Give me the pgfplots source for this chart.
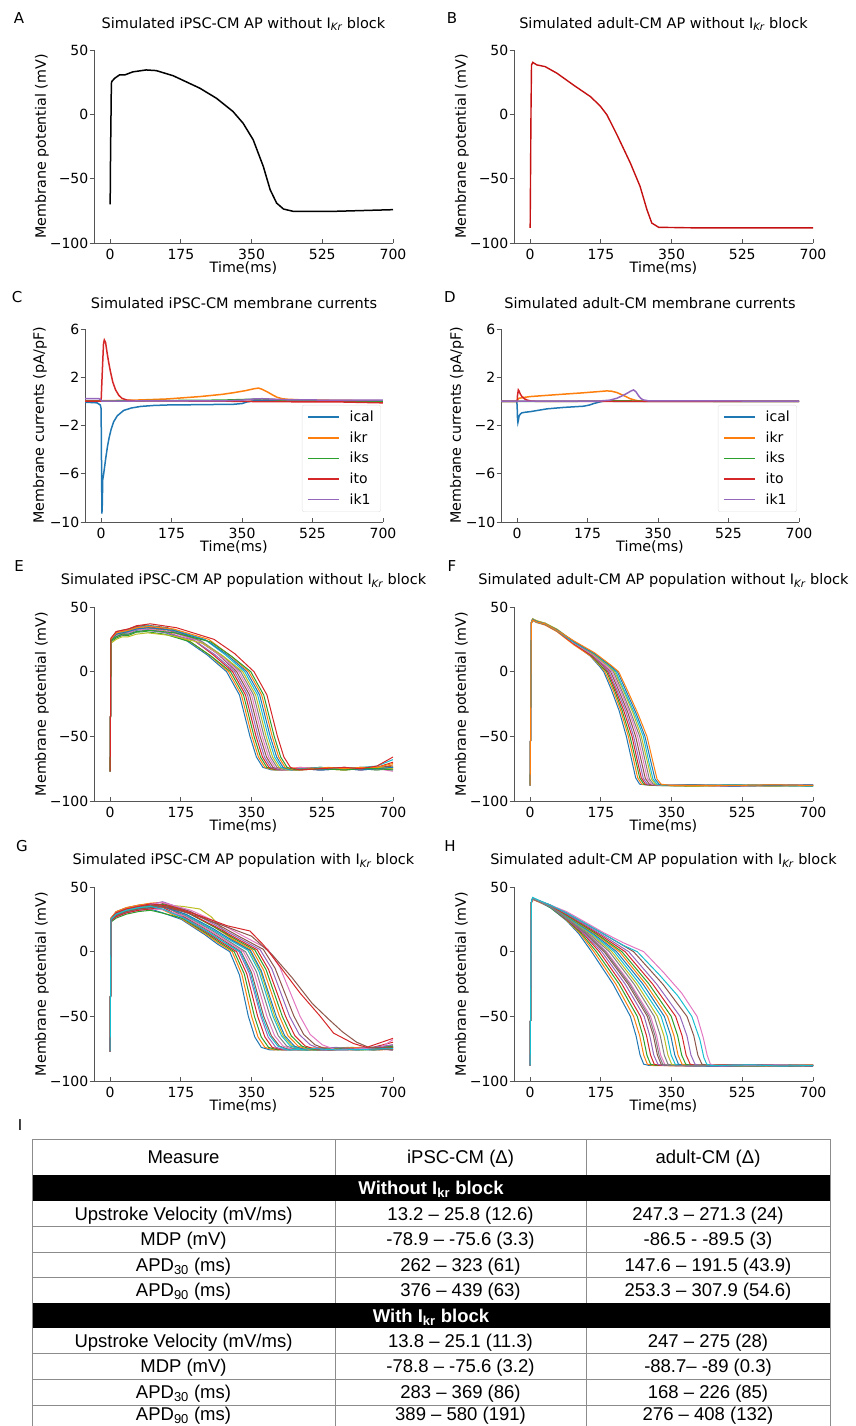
\documentclass[border=0pt]{standalone}
\usepackage{fontspec}
\setmainfont{DejaVu Sans}
\newfontfamily\tabfont{Liberation Sans}
\usepackage{pgfplots}
\pgfplotsset{compat=1.18}

\definecolor{c0}{HTML}{1F77B4}
\definecolor{c1}{HTML}{FF7F0E}
\definecolor{c2}{HTML}{2CA02C}
\definecolor{c3}{HTML}{D62728}
\definecolor{c4}{HTML}{9467BD}
\definecolor{c5}{HTML}{8C564B}
\definecolor{c6}{HTML}{E377C2}
\definecolor{c7}{HTML}{7F7F7F}
\definecolor{c8}{HTML}{BCBD22}
\definecolor{c9}{HTML}{17BECF}
\definecolor{spine}{HTML}{555555}
\definecolor{apred}{HTML}{C41010}

\pgfplotscreateplotcyclelist{tab}{
{c0,line width=1pt,mark=none},{c1,line width=1pt,mark=none},
{c2,line width=1pt,mark=none},{c3,line width=1pt,mark=none},
{c4,line width=1pt,mark=none},{c5,line width=1pt,mark=none},
{c6,line width=1pt,mark=none},{c7,line width=1pt,mark=none},
{c8,line width=1pt,mark=none},{c9,line width=1pt,mark=none}}

\pgfplotsset{
  panel/.style={
    scale only axis, width=299pt, height=193pt, anchor=north west,
    axis x line*=bottom, axis y line*=left,
    axis line style={-,draw=spine,line width=0.9pt},
    every tick/.style={draw=spine,line width=0.9pt},
    xtick align=inside, ytick align=outside, major tick length=4.5pt,
    xmin=-40, xmax=700, xtick={0,175,350,525,700},
    tick label style={font=\fontsize{14}{16}\selectfont},
    yticklabel style={inner xsep=1pt},
    xticklabel style={yshift=-3pt},
    /pgf/number format/assume math mode=true,
    xlabel={Time(ms)},
    every axis x label/.style={at={(axis description cs:0.5,-0.13)},anchor=center,font=\fontsize{14.3}{17}\selectfont},
    every axis y label/.style={at={(axis description cs:-0.174,0.5)},rotate=90,anchor=center,font=\fontsize{14.3}{17}\selectfont},
    every axis title/.style={at={(axis description cs:0.5,1.135)},anchor=center,font=\fontsize{14.5}{17}\selectfont},
    cycle list name=tab,
  },
  ap/.style={panel, ymin=-100, ymax=50, ytick={-100,-50,0,50},
    yticklabels={−100,−50,0,50}, ylabel={Membrane potential (mV)}},
  cur/.style={panel, width=298pt, ymin=-10, ymax=6, ytick={-10,-6,-2,2,6},
    yticklabels={−10,−6,−2,2,6}, ylabel={Membrane currents (pA/pF)},
    every axis y label/.append style={at={(axis description cs:-0.151,0.5)}},
    legend style={at={(0.993,0.052)}, anchor=south east, draw=black!12, fill=white,
      rounded corners=2pt, font=\fontsize{14}{16}\selectfont, inner xsep=5pt, inner ysep=4pt,
      row sep=4.5pt, cells={anchor=west},
      /tikz/every odd column/.append style={column sep=8pt}},
    legend image code/.code={\draw[#1] (0pt,0pt) -- (31pt,0pt);}},
}

\newcommand{\ikr}{I\textsubscript{\itshape Kr}}

\begin{document}
\begin{tikzpicture}
\useasboundingbox (0,0) rectangle (855pt,-1426pt);

% ---------------- A
\begin{axis}[ap, at={(94pt,-50pt)}, title={Simulated iPSC-CM AP without \ikr\ block}]
\addplot[black, line width=1.5pt] coordinates {(0,-70)(1,-30)(3,24)(4,25.5)(11,28)(23,30.6)(36,30.6)(56,33)(89,34.5)(114,34)(156,30)(222,20.3)(263,12.5)(304,2.2)(329,-6.9)(354,-19.8)(379,-40.5)(396,-58.6)(412,-69)(429,-73.6)(453,-75.4)(553,-75.4)(700,-74.1)};
\end{axis}

% ---------------- B
\begin{axis}[ap, at={(514pt,-50pt)}, title={Simulated adult-CM AP without \ikr\ block}]
\addplot[apred, line width=1.4pt] coordinates {(0,-88.3)(2,0)(3.3,38.4)(6.6,40.4)(16.5,38.4)(37,37.1)(66,32)(107,22.8)(149,13.8)(173,6.6)(190,-0.4)(215,-16)(248,-37.9)(272,-56)(289,-74.1)(301,-84.5)(318,-87.8)(400,-88.2)(700,-88.3)};
\end{axis}

% ---------------- C
\begin{axis}[cur, at={(85pt,-329pt)}, title={Simulated iPSC-CM membrane currents}]
\addplot[c0, line width=1.5pt] coordinates {(-40,-0.07)(-10,-0.12)(-2,-0.3)(0,-0.6)(1,-5)(2,-9.3)(3,-8.5)(4,-6.5)(6,-6.1)(8,-5.6)(12,-4.6)(16,-3.7)(20,-3)(25,-2.3)(31,-1.7)(40,-1.2)(56,-0.75)(75,-0.55)(98,-0.42)(130,-0.34)(164,-0.3)(250,-0.27)(329,-0.24)(350,-0.18)(362,-0.05)(380,0.05)(412,0.05)(700,0.02)};
\addplot[c1, line width=1.5pt] coordinates {(-40,0.05)(0,0.05)(50,0.08)(100,0.12)(164,0.2)(246,0.4)(300,0.58)(329,0.72)(360,0.9)(380,1.05)(391,1.1)(400,1.0)(412,0.8)(425,0.55)(437,0.34)(450,0.22)(461,0.18)(500,0.12)(600,0.08)(700,0.05)};
\addplot[c2, line width=1.5pt] coordinates {(-40,0.02)(0,0.02)(100,0.05)(300,0.1)(400,0.2)(430,0.15)(470,0.05)(700,0.02)};
\addplot[c3, line width=1.5pt] coordinates {(-40,0.02)(0,0.02)(3,2.5)(6,4.8)(8,5.1)(11,4.9)(15,4)(19,3.2)(23,2.5)(29,1.6)(36,0.95)(44,0.5)(52,0.25)(65,0.1)(80,0.05)(300,0.02)(400,-0.02)(600,-0.05)(700,-0.12)};
\addplot[c4, line width=1.5pt] coordinates {(-40,0.22)(-5,0.22)(0,0.1)(2,0.02)(50,0.03)(300,0.04)(350,0.1)(380,0.2)(400,0.22)(430,0.18)(470,0.12)(700,0.1)};
\legend{ical,ikr,iks,ito,ik1}
\end{axis}

% ---------------- D
\begin{axis}[cur, at={(501pt,-329pt)}, title={Simulated adult-CM membrane currents},
  every axis y label/.append style={at={(axis description cs:-0.148,0.5)}}]
\addplot[c0, line width=1.5pt] coordinates {(-40,0)(-1,0)(0,-0.3)(1,-1.4)(2,-1.75)(3,-1.6)(5,-1.2)(8,-1.05)(12,-0.95)(20,-0.9)(33,-0.85)(74,-0.62)(116,-0.5)(165,-0.4)(180,-0.3)(190,-0.18)(205,-0.05)(215,0.02)(240,0.01)(700,0)};
\addplot[c1, line width=1.5pt] coordinates {(-40,0)(-1,0)(1,0.1)(4,0.25)(15,0.32)(33,0.4)(74,0.5)(116,0.6)(160,0.7)(198,0.8)(223,0.87)(235,0.84)(248,0.73)(260,0.55)(270,0.4)(281,0.22)(295,0.08)(306,0.02)(320,0)(700,0)};
\addplot[c2, line width=1.5pt] coordinates {(-40,0)(150,0.01)(200,0.03)(260,0.05)(300,0.02)(700,0)};
\addplot[c3, line width=1.5pt] coordinates {(-40,0)(0,0)(1,0.5)(3,0.95)(5,0.85)(8,0.6)(12,0.4)(18,0.22)(25,0.1)(35,0.03)(50,0)(700,0)};
\addplot[c4, line width=1.5pt] coordinates {(-40,0.02)(200,0.02)(230,0.1)(248,0.26)(262,0.48)(273,0.67)(282,0.85)(289,0.95)(295,0.8)(302,0.45)(308,0.22)(314,0.12)(325,0.05)(700,0.02)};
\legend{ical,ikr,iks,ito,ik1}
\end{axis}

% ---------------- E
\begin{axis}[ap, height=194pt, at={(94pt,-607pt)}, title={Simulated iPSC-CM AP population without \ikr\ block}]
\addplot coordinates {(0,-77)(2,24)(15,28)(30,29.5)(45,30)(65,32)(85,33)(130,31)(189,24)(240,13)(288,0)(320,-18)(346,-50)(362,-66)(378,-74)(400,-76)(470,-75)(520,-76)(580,-75)(620,-76)(660,-75)(700,-74)};
\addplot coordinates {(0,-77)(2,25)(15,29)(30,29.5)(45,31)(65,33.5)(86,34)(132,32)(194,24)(245,13)(293,0)(325,-18)(351,-50)(367,-66)(383,-74)(405,-76)(470,-74)(520,-75)(580,-76)(620,-74)(660,-75)(700,-72)};
\addplot coordinates {(0,-77)(2,23)(15,26)(30,28)(45,28)(65,30.5)(87,31)(135,29)(199,23)(250,12)(298,0)(330,-18)(356,-50)(372,-66)(388,-74)(410,-76)(470,-75)(520,-74)(580,-75)(620,-75)(660,-76)(700,-75)};
\addplot coordinates {(0,-77)(2,25)(15,30)(30,31)(45,32)(65,34.5)(88,35)(137,33)(204,25)(255,13)(303,0)(335,-18)(361,-50)(377,-66)(393,-74)(415,-76)(470,-76)(520,-75)(580,-74)(620,-76)(660,-74)(700,-70)};
\addplot coordinates {(0,-77)(2,24)(15,27)(30,28.5)(45,29)(65,31)(89,32)(140,30)(209,24)(260,13)(308,0)(340,-18)(366,-50)(382,-66)(398,-74)(420,-76)(470,-75)(520,-76)(580,-75)(620,-74)(660,-75)(700,-76)};
\addplot coordinates {(0,-77)(2,25)(15,31)(30,32)(45,33)(65,35)(90,36)(142,34)(214,25)(265,14)(313,0)(345,-18)(371,-50)(387,-66)(403,-74)(425,-76)(470,-75)(520,-74)(580,-76)(620,-75)(660,-74)(700,-73)};
\addplot coordinates {(0,-77)(2,24)(15,28)(30,30)(45,30)(65,32.5)(91,33)(145,31)(219,24)(270,13)(318,0)(350,-18)(376,-50)(392,-66)(408,-74)(430,-76)(470,-74)(520,-75)(580,-75)(620,-76)(660,-75)(700,-77)};
\addplot coordinates {(0,-77)(2,24)(15,29)(30,30)(45,31)(65,33)(92,34)(147,32)(224,24)(275,13)(323,0)(355,-18)(381,-50)(397,-66)(413,-74)(435,-76)(470,-75)(520,-76)(580,-74)(620,-75)(660,-76)(700,-74)};
\addplot coordinates {(0,-77)(2,22)(15,25)(30,27)(45,27)(65,29)(93,30)(150,28)(229,22)(280,12)(328,0)(360,-18)(386,-50)(402,-66)(418,-74)(440,-76)(470,-76)(520,-75)(580,-76)(620,-75)(660,-74)(700,-75)};
\addplot coordinates {(0,-77)(2,25)(15,30)(30,30.5)(45,32)(65,34)(94,35.5)(152,33)(234,25)(285,13)(333,0)(365,-18)(391,-50)(407,-66)(423,-74)(445,-76)(490,-75)(520,-74)(580,-75)(620,-74)(660,-73)(700,-68)};
\addplot coordinates {(0,-77)(2,24)(15,29)(30,30)(45,31)(65,33)(95,34)(155,32)(239,24)(290,13)(338,0)(370,-18)(396,-50)(412,-66)(428,-74)(450,-76)(490,-75)(520,-76)(580,-75)(620,-76)(660,-75)(700,-74)};
\addplot coordinates {(0,-77)(2,25)(15,30)(30,31)(45,32)(65,34)(96,35)(157,33)(244,25)(295,13)(343,0)(375,-18)(401,-50)(417,-66)(433,-74)(455,-76)(500,-75)(540,-74)(580,-75)(620,-74)(660,-74)(700,-71)};
\addplot coordinates {(0,-77)(2,24)(15,27)(30,29)(45,29)(65,31)(97,32)(160,30)(249,23)(300,12)(348,0)(380,-18)(406,-50)(422,-66)(438,-74)(460,-76)(520,-75)(580,-76)(620,-75)(660,-75)(700,-76)};
\addplot coordinates {(0,-77)(2,26)(15,31)(30,32)(45,33)(65,35.5)(99,37)(164,34)(257,25)(308,14)(356,0)(388,-18)(414,-50)(430,-66)(446,-74)(468,-76)(520,-75)(580,-74)(620,-75)(660,-73)(700,-66)};
\end{axis}

% ---------------- F
\begin{axis}[ap, height=194pt, at={(514pt,-607pt)}, title={Simulated adult-CM AP population without \ikr\ block}]
\addplot coordinates {(0,-88)(3,38)(6,40)(16,38.5)(37,37)(66,32)(107,22)(149,12)(172,4)(182,0)(201,-14)(220,-30)(238,-50)(251,-68)(261,-82)(271,-87)(300,-88)(400,-88)(500,-87.5)(600,-88.5)(700,-88)};
\addplot coordinates {(0,-88)(3,37)(6,39.5)(16,38)(37,36)(66,31)(107,21)(150,12)(175,4)(185,0)(205,-14)(224,-30)(243,-50)(256,-68)(266,-82)(276,-87)(305,-88)(400,-87.5)(500,-88.5)(600,-88)(700,-87.5)};
\addplot coordinates {(0,-88)(3,38)(6,40.5)(16,39)(37,37.5)(66,32.5)(108,22.5)(151,12.5)(177,4)(189,0)(209,-14.5)(228,-30.5)(247,-50)(261,-68.5)(271,-82)(281,-87)(309,-88)(400,-88.5)(500,-88)(600,-87.5)(700,-88.5)};
\addplot coordinates {(0,-88)(3,38)(6,40)(16,38.5)(37,36.5)(66,31.5)(108,21.5)(152,12.5)(180,4.5)(192,0)(212,-14.5)(232,-30.5)(252,-50)(265,-68.5)(275,-82)(285,-87)(314,-88)(400,-88)(500,-88.5)(600,-87.5)(700,-88)};
\addplot coordinates {(0,-88)(3,38)(6,41)(16,39)(37,37)(66,32)(108,22.5)(153,13)(182,4.5)(195,0)(216,-15)(237,-31)(256,-50)(270,-69)(280,-82.5)(290,-87)(318,-88)(400,-87.5)(500,-88)(600,-88.5)(700,-87.5)};
\addplot coordinates {(0,-88)(3,37.5)(6,40)(16,38.5)(37,37)(66,32.5)(108,23)(154,13)(185,4.5)(199,0)(220,-15)(241,-31)(261,-50)(275,-69)(285,-82.5)(295,-87)(323,-88)(400,-88.5)(500,-87.5)(600,-88)(700,-88.5)};
\addplot coordinates {(0,-88)(3,38)(6,40.5)(16,39)(37,37.5)(66,32)(109,22)(155,13)(187,4.5)(202,0)(224,-15)(245,-31)(266,-50)(280,-69)(290,-82.5)(300,-87)(328,-88)(400,-88)(500,-88.5)(600,-88)(700,-87.5)};
\addplot coordinates {(0,-88)(3,38)(6,40)(16,38)(37,36.5)(66,31.5)(109,22.5)(156,13.5)(190,5)(206,0)(228,-15.5)(249,-31.5)(271,-50)(285,-69.5)(295,-83)(305,-87)(332,-88)(400,-87.5)(500,-88)(600,-87.5)(700,-88)};
\addplot coordinates {(0,-88)(3,38)(6,41)(16,39.5)(37,37.5)(66,33)(109,23)(157,13.5)(192,5)(209,0)(232,-15.5)(254,-31.5)(275,-50)(290,-69.5)(300,-83)(310,-87)(337,-88)(400,-88.5)(500,-88)(600,-88.5)(700,-88)};
\addplot coordinates {(0,-88)(3,38)(6,40)(16,38.5)(37,37)(66,32)(109,22.5)(158,14)(195,5)(212,0)(235,-16)(258,-32)(280,-50)(294,-70)(304,-83)(314,-87)(341,-88)(400,-88)(500,-87.5)(600,-88)(700,-88.5)};
\addplot coordinates {(0,-88)(3,38)(6,40.5)(16,39)(37,37)(66,32.5)(110,23)(159,14)(197,5)(216,0)(239,-16)(262,-32)(284,-50)(299,-70)(309,-83)(319,-87)(345,-88)(400,-87.5)(500,-88.5)(600,-88)(700,-87.5)};
\addplot coordinates {(0,-88)(3,38)(6,40)(16,38.5)(37,37)(66,32)(110,23.5)(160,14.5)(200,5)(219,0)(243,-16)(266,-32)(289,-50)(304,-70)(314,-83)(324,-87)(350,-88)(400,-88)(500,-88)(600,-87.5)(700,-88)};
\end{axis}

% ---------------- G
\begin{axis}[ap, height=194pt, at={(94pt,-887pt)}, title={Simulated iPSC-CM AP population with \ikr\ block}]
\addplot coordinates {(0,-77)(2,23)(15,27)(40,30)(70,32)(100,33)(130,30)(176,25)(235,13)(265,6)(296,0)(320,-18)(342,-50)(358,-66)(374,-74)(396,-76)(460,-75)(530,-76)(600,-75)(650,-76)(700,-74)};
\addplot coordinates {(0,-77)(2,25)(15,29)(40,32)(70,34)(100,35)(130,32.4)(177,25.4)(237,13.5)(269,6.4)(302,0)(326,-17.6)(350,-50)(366,-66)(383,-74)(406,-76)(470,-75)(530,-74)(600,-76)(650,-75)(700,-73)};
\addplot coordinates {(0,-77)(2,23)(15,26)(40,29)(70,31)(100,32)(130,29.8)(179,25.8)(239,14)(273,6.7)(307,0)(332,-17.3)(357,-50)(374,-66)(392,-74)(416,-76)(480,-76)(540,-75)(600,-74)(650,-76)(700,-75)};
\addplot coordinates {(0,-77)(2,25)(15,30)(40,33)(70,35)(100,36)(130,34.3)(180,26.3)(241,14.6)(277,7)(313,0)(338,-17)(365,-50)(383,-66)(401,-74)(426,-76)(490,-75)(550,-76)(600,-75)(650,-74)(700,-70)};
\addplot coordinates {(0,-77)(2,24)(15,28)(40,31)(70,33)(100,34)(130,32.7)(182,26.7)(243,15)(281,7.4)(319,0)(344,-16.6)(373,-50)(391,-66)(410,-74)(435,-76)(500,-75)(560,-74)(610,-76)(660,-75)(700,-76)};
\addplot coordinates {(0,-77)(2,26)(15,31)(40,34)(70,36)(100,37)(130,36.1)(183,27)(246,15.7)(285,7.8)(324,0)(350,-16.2)(380,-50)(399,-65)(419,-73)(445,-76)(510,-76)(570,-75)(620,-74)(660,-75)(700,-73)};
\addplot coordinates {(0,-77)(2,24)(15,27)(40,30)(70,32)(100,33)(130,32.5)(185,27.5)(248,16)(288,8.2)(330,0)(356,-16)(388,-50)(407,-65)(428,-73)(455,-76)(520,-75)(580,-76)(630,-75)(670,-74)(700,-75)};
\addplot coordinates {(0,-77)(2,25)(15,29)(40,32)(70,34)(100,35)(130,34.9)(186,28)(250,16.8)(292,8.5)(335,0)(362,-15.5)(396,-50)(416,-65)(437,-73)(465,-76)(530,-75)(590,-74)(640,-76)(700,-72)};
\addplot coordinates {(0,-77)(2,25)(15,30)(40,33)(70,35)(100,36)(140,36)(180,35)(222,33)(250,27)(300,10)(345,1)(372,-15)(407,-50)(428,-65)(451,-73)(480,-76)(550,-75)(620,-76)(700,-74)};
\addplot coordinates {(0,-77)(2,25)(15,30)(40,33)(70,35)(100,36)(130,36.4)(188,28.4)(252,17.3)(296,9)(341,1)(368,-15)(403,-50)(424,-65)(446,-73)(475,-76)(540,-76)(600,-75)(650,-74)(700,-76)};
\addplot coordinates {(0,-77)(2,24)(15,28)(40,31)(70,33)(100,34)(130,34.8)(189,28.8)(254,18)(300,9.2)(347,1.1)(374,-14.8)(411,-50)(432,-65)(456,-73)(485,-76)(550,-75)(610,-76)(660,-75)(700,-74)};
\addplot coordinates {(0,-77)(2,26)(15,31)(40,34)(70,36)(100,37.5)(130,38.2)(190,31)(256,19.4)(304,9.6)(352,1.2)(380,-14.4)(419,-50)(440,-65)(465,-73)(494,-76)(560,-75)(620,-74)(670,-76)(700,-75)};
\addplot coordinates {(0,-77)(2,25)(15,29)(40,32)(70,34)(100,35)(130,36.6)(192,30)(258,19)(308,10)(358,1.3)(386,-14)(426,-50)(448,-65)(474,-73)(504,-76)(570,-75)(630,-76)(700,-73)};
\addplot coordinates {(0,-77)(2,24)(15,27)(40,30)(70,32)(100,33)(130,35)(193,30)(260,19.5)(312,10.3)(364,1.4)(392,-13.7)(434,-50)(457,-65)(483,-73)(514,-76)(580,-76)(640,-75)(700,-76)};
\addplot coordinates {(0,-77)(2,25)(15,30)(40,33)(70,35)(100,36.5)(130,38.6)(195,31.5)(263,20.2)(317,10.8)(371,1.6)(400,-13.2)(444,-50)(468,-64)(495,-72)(527,-76)(590,-75)(650,-74)(700,-72)};
\addplot coordinates {(0,-77)(2,24)(15,28)(40,31)(70,33)(100,34)(130,37.2)(197,31.2)(266,21)(322,11.3)(379,1.8)(408,-12.7)(455,-50)(479,-64)(507,-72)(540,-76)(600,-75)(660,-76)(700,-75)};
\addplot coordinates {(0,-77)(2,25)(15,30)(40,33)(70,35)(100,37)(130,38)(200,32)(270,22)(330,12)(390,2)(420,-12)(470,-50)(495,-64)(525,-72)(560,-76)(620,-75)(670,-74)(700,-68)};
\addplot+[c5] coordinates {(0,-77)(2,25)(15,30)(40,33)(70,35)(100,36)(150,34)(220,27)(290,19)(350,12)(400,-2)(450,-20)(500,-40)(540,-52)(575,-62)(610,-70)(640,-74)(700,-74)};
\addplot+[c3] coordinates {(0,-77)(2,25)(15,30)(40,33)(70,35)(100,37)(150,35)(220,28)(290,20)(346,16)(380,5)(412,-8)(470,-32)(520,-50)(553,-63)(602,-71)(635,-74)(700,-67)};
\addplot coordinates {(0,-77)(2,25)(15,29)(40,32)(70,34)(100,35)(130,33)(181,26)(244,15)(283,7)(322,0)(347,-16.4)(376,-50)(395,-65)(415,-73)(440,-76)(505,-75)(565,-76)(700,-75)};
\end{axis}

% ---------------- H
\begin{axis}[ap, height=194pt, at={(514pt,-887pt)}, title={Simulated adult-CM AP population with \ikr\ block}]
\addplot coordinates {(0,-88)(3,38)(6,41)(20,39)(50,34)(90,24)(120,14)(152,0)(205,-25)(248,-50)(262,-65)(272,-80)(281,-87)(295,-88)(400,-87.5)(500,-88.5)(600,-88)(700,-87.5)};
\addplot coordinates {(0,-88)(3,38)(6,40.5)(20,38.5)(50,34.5)(90,24.4)(124,14)(158,0)(212,-25)(256,-50)(271,-65)(281,-80)(290,-87)(304,-88)(400,-88.5)(500,-88)(600,-87.5)(700,-88)};
\addplot coordinates {(0,-88)(3,38)(6,41)(20,39.5)(50,34)(90,24.7)(127,14)(164,0)(220,-25)(265,-50)(279,-65)(289,-80)(298,-87)(312,-88)(400,-88)(500,-87.5)(600,-88.5)(700,-88)};
\addplot coordinates {(0,-88)(3,38)(6,41)(20,39)(50,35)(90,25.1)(131,14)(171,0)(227,-25)(273,-50)(288,-65)(298,-80)(307,-87)(321,-88)(400,-87.5)(500,-88)(600,-88)(700,-88.5)};
\addplot coordinates {(0,-88)(3,38)(6,40.5)(20,39)(50,34.5)(90,25.4)(134,14)(177,0)(235,-25)(282,-50)(296,-65)(306,-80)(316,-87)(330,-88)(400,-88.5)(500,-87.5)(600,-88)(700,-88)};
\addplot coordinates {(0,-88)(3,38)(6,41)(20,39.5)(50,35)(90,25.8)(138,14)(183,0)(242,-25)(290,-50)(305,-65)(315,-80)(324,-87)(339,-88)(400,-88)(500,-88.5)(600,-87.5)(700,-88)};
\addplot coordinates {(0,-88)(3,38)(6,41)(20,39)(50,35.5)(90,26.2)(142,14)(189,0)(249,-25)(298,-50)(313,-65)(323,-80)(333,-87)(347,-88)(400,-87.5)(500,-88)(600,-88.5)(700,-87.5)};
\addplot coordinates {(0,-88)(3,38)(6,40.5)(20,39)(50,35)(90,26.5)(145,14)(196,0)(257,-25)(307,-50)(322,-65)(332,-80)(341,-87)(356,-88)(450,-88.5)(550,-88)(620,-87.5)(700,-88)};
\addplot coordinates {(0,-88)(3,38)(6,41)(20,39.5)(50,35.5)(90,26.9)(149,14)(202,0)(264,-25)(315,-50)(331,-65)(341,-80)(350,-87)(365,-88)(450,-87.5)(550,-88.5)(620,-88)(700,-88)};
\addplot coordinates {(0,-88)(3,38)(6,41)(20,39)(50,35)(90,27.2)(152,14)(208,0)(271,-25)(324,-50)(339,-65)(349,-80)(359,-87)(373,-88)(450,-88)(550,-87.5)(620,-88.5)(700,-88)};
\addplot coordinates {(0,-88)(3,38)(6,41)(20,39.5)(50,36)(90,27.6)(156,14)(214,0)(279,-25)(332,-50)(348,-65)(358,-80)(367,-87)(382,-88)(450,-88.5)(550,-88)(620,-87.5)(700,-88.5)};
\addplot coordinates {(0,-88)(3,38)(6,40.5)(20,39)(50,35.5)(90,28)(160,14)(221,0)(286,-25)(340,-50)(356,-65)(366,-80)(376,-87)(391,-88)(450,-87.5)(550,-88.5)(620,-88)(700,-87.5)};
\addplot coordinates {(0,-88)(3,38)(6,41)(20,39.5)(50,36)(90,28.3)(163,14)(227,0)(294,-25)(349,-50)(365,-65)(375,-80)(385,-87)(399,-88)(480,-88)(560,-88.5)(630,-87.5)(700,-88)};
\addplot coordinates {(0,-88)(3,38)(6,41)(20,39)(50,35.5)(90,28.8)(168,14)(235,0)(303,-25)(360,-50)(376,-65)(386,-80)(396,-87)(411,-88)(480,-87.5)(560,-88)(630,-88.5)(700,-88)};
\addplot coordinates {(0,-88)(3,38)(6,41)(20,39.5)(50,36)(90,29.3)(173,14)(244,0)(313,-25)(371,-50)(388,-65)(398,-80)(408,-87)(423,-88)(480,-88.5)(560,-87.5)(630,-88)(700,-88)};
\addplot coordinates {(0,-88)(3,38)(6,41)(20,39.5)(50,36)(90,30)(180,14)(256,0)(328,-25)(388,-50)(405,-65)(415,-80)(425,-87)(440,-88)(500,-88)(580,-87.5)(640,-88.5)(700,-88)};
\addplot+[c6] coordinates {(0,-88)(3,38)(6,41)(20,39.5)(50,36)(90,31)(130,24)(180,15)(230,7)(281,0)(330,-16)(375,-32)(413,-50)(428,-66)(438,-80)(446,-87)(460,-88)(550,-88)(620,-87.5)(700,-88)};
\addplot coordinates {(0,-88)(3,38)(6,41)(20,39)(50,35)(90,26)(140,14)(186,0)(246,-25)(294,-50)(309,-65)(319,-80)(328,-87)(343,-88)(450,-88)(550,-88.5)(700,-88)};
\addplot+[c9] coordinates {(0,-88)(3,39)(6,42)(20,40)(50,36)(90,30)(130,23)(180,14)(230,5)(265,0)(320,-18)(365,-34)(400,-50)(420,-68)(430,-82)(437,-87)(450,-88)(550,-87.5)(620,-88.5)(700,-88)};
\end{axis}

% ---------------- panel letters
\begin{scope}[font=\fontsize{15}{18}\selectfont]
\node at (19pt,-18pt) {A};
\node at (452pt,-18pt) {B};
\node at (17pt,-297pt) {C};
\node at (450pt,-297pt) {D};
\node at (19pt,-566pt) {E};
\node at (452pt,-566pt) {F};
\node at (22pt,-846pt) {G};
\node at (450pt,-846pt) {H};
\node at (20pt,-1125pt) {I};
\end{scope}

% ---------------- table
\begin{scope}[x=1pt,y=-1pt,font=\tabfont\fontsize{18.5}{21}\selectfont]
\fill[black] (32,1175) rectangle (830,1201);
\fill[black] (32,1303) rectangle (830,1328);
\draw[black!45,line width=1pt] (32,1139) rectangle (830,1432);
\foreach \yy in {1226,1252,1277,1353,1379,1405}
  \draw[black!45,line width=1pt] (32,\yy) -- (830,\yy);
\foreach \xx in {335,586} {
  \draw[black!45,line width=1pt] (\xx,1139) -- (\xx,1175);
  \draw[black!45,line width=1pt] (\xx,1201) -- (\xx,1303);
  \draw[black!45,line width=1pt] (\xx,1328) -- (\xx,1432);
}
\node[anchor=base] at (183.5,1163.5) {Measure};
\node[anchor=base] at (460.5,1163.5) {iPSC-CM (Δ)};
\node[anchor=base] at (708,1163.5) {adult-CM (Δ)};
\node[anchor=base,text=white,font=\tabfont\bfseries\fontsize{18.5}{21}\selectfont] at (431,1194.5) {Without I\textsubscript{kr} block};
\node[anchor=base] at (183.5,1220) {Upstroke Velocity (mV/ms)};
\node[anchor=base] at (460.5,1220) {13.2 – 25.8 (12.6)};
\node[anchor=base] at (708,1220) {247.3 – 271.3 (24)};
\node[anchor=base] at (183.5,1245.5) {MDP (mV)};
\node[anchor=base] at (460.5,1245.5) {-78.9 – -75.6 (3.3)};
\node[anchor=base] at (708,1245.5) {-86.5 - -89.5 (3)};
\node[anchor=base] at (183.5,1271) {APD\textsubscript{30} (ms)};
\node[anchor=base] at (460.5,1271) {262 – 323 (61)};
\node[anchor=base] at (708,1271) {147.6 – 191.5 (43.9)};
\node[anchor=base] at (183.5,1296.5) {APD\textsubscript{90} (ms)};
\node[anchor=base] at (460.5,1296.5) {376 – 439 (63)};
\node[anchor=base] at (708,1296.5) {253.3 – 307.9 (54.6)};
\node[anchor=base,text=white,font=\tabfont\bfseries\fontsize{18.5}{21}\selectfont] at (431,1322) {With I\textsubscript{kr} block};
\node[anchor=base] at (183.5,1347) {Upstroke Velocity (mV/ms)};
\node[anchor=base] at (460.5,1347) {13.8 – 25.1 (11.3)};
\node[anchor=base] at (708,1347) {247 – 275 (28)};
\node[anchor=base] at (183.5,1372.5) {MDP (mV)};
\node[anchor=base] at (460.5,1372.5) {-78.8 – -75.6 (3.2)};
\node[anchor=base] at (708,1372.5) {-88.7– -89 (0.3)};
\node[anchor=base] at (183.5,1398.5) {APD\textsubscript{30} (ms)};
\node[anchor=base] at (460.5,1398.5) {283 – 369 (86)};
\node[anchor=base] at (708,1398.5) {168 – 226 (85)};
\node[anchor=base] at (183.5,1420.5) {APD\textsubscript{90} (ms)};
\node[anchor=base] at (460.5,1420.5) {389 – 580 (191)};
\node[anchor=base] at (708,1420.5) {276 – 408 (132)};
\end{scope}
\end{tikzpicture}
\end{document}
